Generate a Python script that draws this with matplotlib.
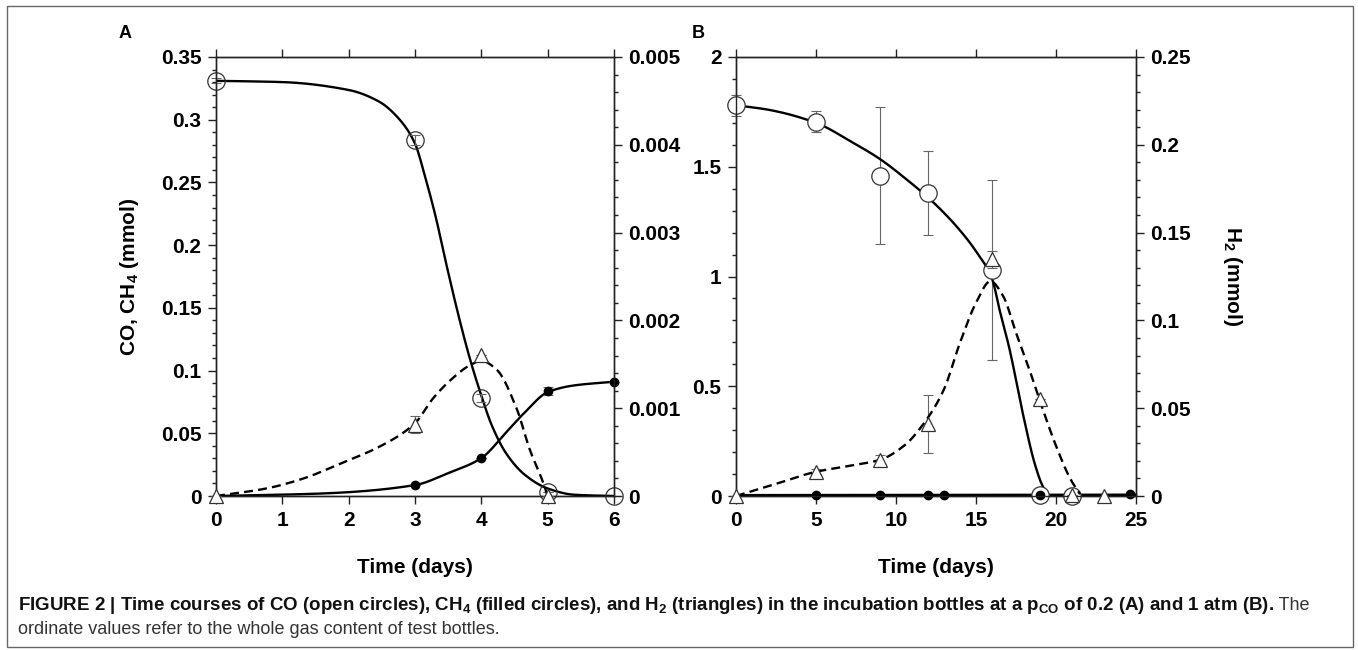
import numpy as np
import matplotlib
matplotlib.use("Agg")
import matplotlib.pyplot as plt
from matplotlib.ticker import MultipleLocator, FuncFormatter
from matplotlib.patches import Rectangle

plt.rcParams['font.family'] = ['Liberation Sans', 'DejaVu Sans']
plt.rcParams['mathtext.fontset'] = 'custom'
plt.rcParams['mathtext.rm'] = 'Liberation Sans'
plt.rcParams['mathtext.bf'] = 'Liberation Sans:bold'
plt.rcParams['mathtext.it'] = 'Liberation Sans:italic'

# ---------------- Panel A data (pCO 0.2 atm) ----------------
days_a = [0, 3, 4, 5, 6]
co_a = [0.331, 0.284, 0.078, 0.003, 0.0]
co_a_err = [0.002, 0.004, 0.003, 0.0, 0.0]
ch4_days_a = [3, 4, 5, 6]
ch4_a = [0.0087, 0.0302, 0.0836, 0.0911]
ch4_a_err = [0.0, 0.0, 0.003, 0.0]
h2_days_a = [0, 3, 4, 5]
h2_a = [0.0, 0.000813, 0.00161, 0.0]          # right axis (mmol)
h2_a_err = [0.0, 0.0001, 0.0, 0.0]

# fitted curves
co_fit_a_x = [0, 1.0, 2.0, 2.46, 2.77, 3.0, 3.15, 3.31, 3.48, 3.66, 3.83, 4.0, 4.16, 4.38, 4.66, 5.0, 5.4, 6.0]
co_fit_a_y = [0.331, 0.330, 0.3237, 0.3144, 0.300, 0.281, 0.255, 0.223, 0.183, 0.143, 0.109, 0.080, 0.056, 0.0335, 0.0167, 0.006, 0.001, 0.0]
ch4_fit_a_x = [0, 1.6, 3.0, 3.49, 4.0, 4.38, 4.66, 5.0, 5.39, 6.0]
ch4_fit_a_y = [0.0, 0.002, 0.0087, 0.018, 0.0302, 0.0511, 0.0669, 0.0828, 0.0881, 0.0911]
h2_fit_a_x = [0, 0.76, 1.32, 1.88, 2.47, 3.0, 3.27, 3.55, 3.83, 4.0, 4.23, 4.53, 4.73, 4.93, 5.0]
h2_fit_a_y = [0.0, 0.000086, 0.0002, 0.000371, 0.000564, 0.000829, 0.00111, 0.00133, 0.00149, 0.00154,
              0.00144, 0.001, 0.00053, 0.000157, 0.0]

# ---------------- Panel B data (pCO 1 atm) ----------------
days_b = [0, 5, 9, 12, 16, 19, 21]
co_b = [1.78, 1.706, 1.46, 1.38, 1.03, 0.003, 0.0]
co_b_err = [0.048, 0.046, 0.31, 0.19, 0.41, 0.0, 0.0]
ch4_days_b = [5, 9, 12, 13, 19, 24.6]
ch4_b = [0.004, 0.004, 0.005, 0.005, 0.005, 0.008]
h2_days_b = [0, 5, 9, 12, 16, 19, 21, 23]
h2_b = [0.0, 0.0138, 0.0206, 0.041, 0.1347, 0.0555, 0.0005, 0.0]   # right axis (mmol)
h2_b_err = [0.0, 0.0015, 0.0025, 0.0166, 0.0047, 0.0, 0.0, 0.0]

co_fit_b_x = [0, 2, 5, 7.3, 9, 10.7, 12, 13, 14, 15, 16, 16.5, 17.1, 17.5, 17.96, 18.7, 19.2, 19.6, 25]
co_fit_b_y = [1.78, 1.76, 1.70, 1.61, 1.535, 1.44, 1.36, 1.29, 1.21, 1.115, 0.99, 0.84, 0.668, 0.53, 0.365,
              0.14, 0.04, 0.0, 0.0]
ch4_fit_b_x = [0, 25]
ch4_fit_b_y = [0.004, 0.006]
h2_fit_b_x = [0, 2.5, 5, 7.1, 9, 10.5, 12, 13, 14, 15, 15.9, 16.7, 17.5, 18.4, 19.1, 20, 20.9, 21.5]
h2_fit_b_y = [0.0, 0.0069, 0.0138, 0.0172, 0.0206, 0.0286, 0.0447, 0.0608, 0.0873, 0.110, 0.1223, 0.1138,
              0.093, 0.0703, 0.0513, 0.0286, 0.0097, 0.001]


def smooth(x, y, n=400):
    """Monotone cubic (PCHIP-style) rendering of a curve through read points."""
    x = np.asarray(x, float)
    y = np.asarray(y, float)
    xs = np.linspace(x[0], x[-1], n)
    if len(x) < 3:
        return xs, np.interp(xs, x, y)
    h = np.diff(x)
    d = np.diff(y) / h
    m = np.zeros(len(x))
    for k in range(1, len(x) - 1):
        if d[k - 1] * d[k] > 0:
            w1 = 2 * h[k] + h[k - 1]
            w2 = h[k] + 2 * h[k - 1]
            m[k] = (w1 + w2) / (w1 / d[k - 1] + w2 / d[k])
    m[0] = d[0]
    m[-1] = d[-1]
    idx = np.clip(np.searchsorted(x, xs) - 1, 0, len(x) - 2)
    t = (xs - x[idx]) / h[idx]
    h00 = 2 * t**3 - 3 * t**2 + 1
    h10 = t**3 - 2 * t**2 + t
    h01 = -2 * t**3 + 3 * t**2
    h11 = t**3 - t**2
    ys = h00 * y[idx] + h10 * h[idx] * m[idx] + h01 * y[idx + 1] + h11 * h[idx] * m[idx + 1]
    return xs, ys


W, H = 1358, 650
fig = plt.figure(figsize=(W / 100, H / 100), dpi=100)

fmt = FuncFormatter(lambda v, p: ('%g' % round(v, 6)))
TICK_FS = 15
SPINE_C = '#222222'
LW = 1.7
DASH = (0, (3.8, 2.2))
ERR_C = '#666666'


def style_axes(ax, ax2):
    for a in (ax, ax2):
        for s in a.spines.values():
            s.set_linewidth(1.0)
            s.set_color(SPINE_C)
    ax.tick_params(axis='both', which='both', direction='out', color=SPINE_C, width=1.0,
                   labelsize=TICK_FS, pad=5, top=True, right=False, labeltop=False)
    ax.tick_params(which='major', length=5.5)
    ax.tick_params(which='minor', length=3.2)
    ax.xaxis.set_minor_locator(plt.NullLocator())
    ax2.tick_params(axis='y', which='both', direction='out', color=SPINE_C, width=1.0,
                    labelsize=TICK_FS, pad=5)
    ax2.tick_params(which='major', length=5.5)
    ax2.tick_params(which='minor', length=3.2)
    for a in (ax, ax2):
        for lab in a.get_xticklabels() + a.get_yticklabels():
            lab.set_fontweight('bold')
        a.yaxis.set_major_formatter(fmt)
    ax.xaxis.set_major_formatter(fmt)


axA_pos = [216 / W, 1 - 496 / H, 398 / W, 439 / H]
axB_pos = [736 / W, 1 - 496 / H, 400 / W, 439 / H]

# ---------------- Panel A ----------------
axA = fig.add_axes(axA_pos)
axA2 = axA.twinx()
axA.set_xlim(0, 6)
axA.set_ylim(0, 0.35)
axA2.set_ylim(0, 0.005)
axA.xaxis.set_major_locator(MultipleLocator(1))
axA.yaxis.set_major_locator(MultipleLocator(0.05))
axA.yaxis.set_minor_locator(MultipleLocator(0.01))
axA2.yaxis.set_major_locator(MultipleLocator(0.001))
axA2.yaxis.set_minor_locator(MultipleLocator(0.0002))

xs, ys = smooth(co_fit_a_x, co_fit_a_y)
axA.plot(xs, ys, color='black', lw=LW, zorder=3)
xs, ys = smooth(ch4_fit_a_x, ch4_fit_a_y)
axA.plot(xs, ys, color='black', lw=LW, zorder=3)
xs, ys = smooth(h2_fit_a_x, h2_fit_a_y)
axA2.plot(xs, ys, color='black', lw=LW, linestyle=DASH, zorder=3)

axA.errorbar(days_a, co_a, yerr=co_a_err, fmt='none', ecolor=ERR_C, elinewidth=0.8,
             capsize=3.5, capthick=0.8, zorder=4, clip_on=False)
axA.errorbar(ch4_days_a, ch4_a, yerr=ch4_a_err, fmt='none', ecolor=ERR_C, elinewidth=0.8,
             capsize=3.5, capthick=0.8, zorder=4, clip_on=False)
axA2.errorbar(h2_days_a, h2_a, yerr=h2_a_err, fmt='none', ecolor=ERR_C, elinewidth=0.8,
              capsize=3.5, capthick=0.8, zorder=4, clip_on=False)
axA.plot(days_a, co_a, linestyle='none', marker='o', ms=12.5, mfc='none', mec='#333333', mew=0.9,
         zorder=5, clip_on=False)
axA.plot(ch4_days_a, ch4_a, linestyle='none', marker='o', ms=6, mfc='black', mec='black',
         zorder=5, clip_on=False)
axA2.plot(h2_days_a, h2_a, linestyle='none', marker='^', ms=9.5, mfc='white', mec='#333333', mew=0.9,
          zorder=5, clip_on=False)
style_axes(axA, axA2)
axA.set_ylabel(r'CO, CH$_\mathbf{4}$ (mmol)', fontsize=15, fontweight='bold')
axA.yaxis.set_label_coords(-0.188, 0.5)
axA.set_xlabel('Time (days)', fontsize=15, fontweight='bold')
axA.xaxis.set_label_coords(0.5, -0.141)

# ---------------- Panel B ----------------
axB = fig.add_axes(axB_pos)
axB2 = axB.twinx()
axB.set_xlim(0, 25)
axB.set_ylim(0, 2)
axB2.set_ylim(0, 0.25)
axB.xaxis.set_major_locator(MultipleLocator(5))
axB.yaxis.set_major_locator(MultipleLocator(0.5))
axB.yaxis.set_minor_locator(MultipleLocator(0.1))
axB2.yaxis.set_major_locator(MultipleLocator(0.05))
axB2.yaxis.set_minor_locator(MultipleLocator(0.01))

xs, ys = smooth(co_fit_b_x, co_fit_b_y)
axB.plot(xs, ys, color='black', lw=LW, zorder=3)
xs, ys = smooth(ch4_fit_b_x, ch4_fit_b_y)
axB.plot(xs, ys, color='black', lw=LW, zorder=3, clip_on=False)
xs, ys = smooth(h2_fit_b_x, h2_fit_b_y)
axB2.plot(xs, ys, color='black', lw=LW, linestyle=DASH, zorder=3)

axB.errorbar(days_b, co_b, yerr=co_b_err, fmt='none', ecolor=ERR_C, elinewidth=0.8,
             capsize=3.5, capthick=0.8, zorder=2, clip_on=False)
axB2.errorbar(h2_days_b, h2_b, yerr=h2_b_err, fmt='none', ecolor=ERR_C, elinewidth=0.8,
              capsize=3.5, capthick=0.8, zorder=2, clip_on=False)
axB.plot(days_b, co_b, linestyle='none', marker='o', ms=12.5, mfc='white', mec='#333333', mew=0.9,
         zorder=5, clip_on=False)
axB.plot(ch4_days_b, ch4_b, linestyle='none', marker='o', ms=6, mfc='black', mec='black',
         zorder=6, clip_on=False)
axB2.plot(h2_days_b, h2_b, linestyle='none', marker='^', ms=9.5, mfc='white', mec='#333333', mew=0.9,
          zorder=5, clip_on=False)
style_axes(axB, axB2)
axB.set_xlabel('Time (days)', fontsize=15, fontweight='bold')
axB.xaxis.set_label_coords(0.5, -0.141)
axB2.set_ylabel(r'H$_\mathbf{2}$ (mmol)', fontsize=15, fontweight='bold', rotation=270)
axB2.yaxis.set_label_coords(1.27, 0.5)

# panel letters
fig.text(125 / W, 1 - 33 / H, 'A', fontsize=13, fontweight='bold', ha='center', va='center')
fig.text(698 / W, 1 - 33 / H, 'B', fontsize=13, fontweight='bold', ha='center', va='center')

# outer frame
fig.patches.append(Rectangle((7 / W, 3 / H), (1353 - 7) / W, (644 - 3) / H, transform=fig.transFigure,
                             fill=False, edgecolor='#666666', lw=1.0))

# caption
cap_bold = (r'FIGURE 2 | Time courses of CO (open circles), CH$_\mathbf{4}$ (filled circles), and '
            r'H$_\mathbf{2}$ (triangles) in the incubation bottles at a p$_\mathbf{CO}$ of 0.2 (A) and 1 atm (B).')
cap_reg1 = ' The'
cap_reg2 = 'ordinate values refer to the whole gas content of test bottles.'
y1 = 1 - 610 / H
y2 = 1 - 634 / H
t1 = fig.text(18 / W, y1, cap_bold, fontsize=13.5, fontweight='bold', ha='left', va='baseline',
              color='#111111')
fig.canvas.draw()
bb = t1.get_window_extent(fig.canvas.get_renderer())
fig.text(bb.x1 / W, y1, cap_reg1, fontsize=13, ha='left', va='baseline', color='#333333')
fig.text(18 / W, y2, cap_reg2, fontsize=13, ha='left', va='baseline', color='#333333')

fig.savefig('out.png', dpi=100)
